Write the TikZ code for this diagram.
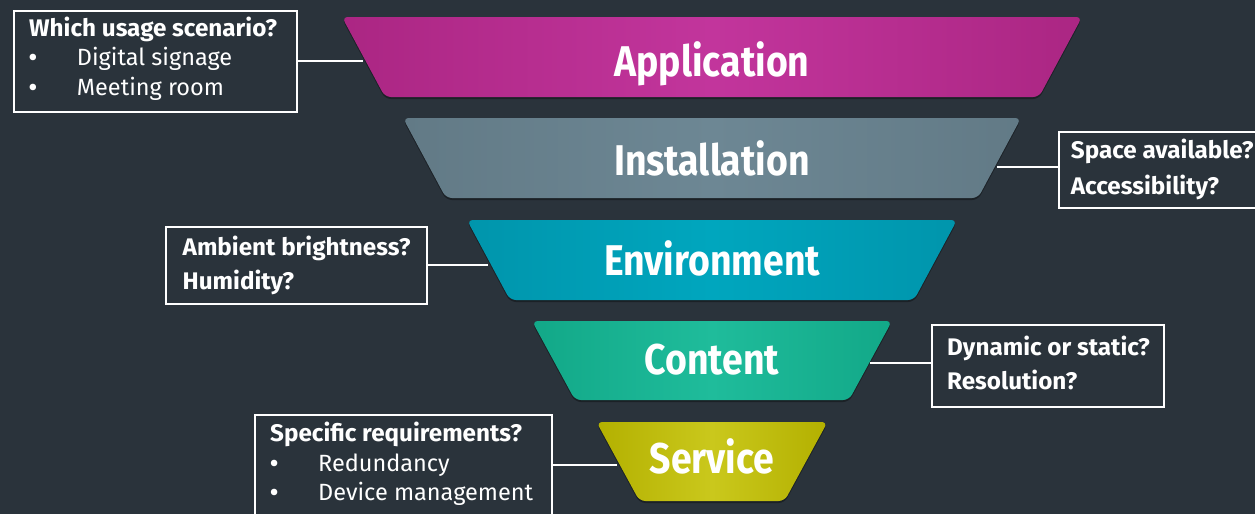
\documentclass[tikz,border=0pt]{standalone}
\usepackage{fontspec}
\setmainfont{Fira Sans}
\newfontfamily\titlefont{Fira Sans}[FakeStretch=0.87]
\newfontfamily\headfont{Fira Sans}[FakeStretch=1.01]
\definecolor{bg}{HTML}{2A333B}
\definecolor{appE}{HTML}{AB2683}\definecolor{appM}{HTML}{C2359C}
\definecolor{insE}{HTML}{627A86}\definecolor{insM}{HTML}{6D8794}
\definecolor{envE}{HTML}{0095AC}\definecolor{envM}{HTML}{00A6BE}
\definecolor{conE}{HTML}{12A888}\definecolor{conM}{HTML}{1FBC9B}
\definecolor{serE}{HTML}{B3B000}\definecolor{serM}{HTML}{CAC81C}
\newcommand\bulletitem{\makebox[48pt][l]{\bfseries •}}
\tikzset{
  qbox/.style={draw=white, line width=2pt, anchor=north west, inner sep=0pt},
  conn/.style={draw=white, line width=2pt},
  qtext/.style={text=white, inner sep=0pt, anchor=base west, font=\fontsize{23.5}{28}\selectfont},
  qhead/.style={qtext, font=\headfont\fontsize{24}{28}\selectfont\bfseries},
  title/.style={text=white, inner sep=0pt, anchor=base, font=\titlefont\fontsize{43}{50}\selectfont\bfseries},
}
% #1 top y, #2 bottom y, #3 top half width, #4 edge colour, #5 middle colour
\newcommand\funnelpart[5]{%
  \fill[black, opacity=0.35, rounded corners=6pt]
    ({712-#3},#1+2) -- ({712+#3},#1+2) -- ({712+#3-43},#2+2) -- ({712-#3+43},#2+2) -- cycle;
  \shade[rounded corners=6pt, left color=#4, right color=#4, middle color=#5]
    ({712-#3},#1) -- ({712+#3},#1) -- ({712+#3-43},#2) -- ({712-#3+43},#2) -- cycle;
}
\begin{document}
\begin{tikzpicture}[x=1pt, y=-1pt]
\useasboundingbox (0,0) rectangle (1255,514);
\clip (0,0) rectangle (1255,514);
\fill[bg] (0,0) rectangle (1255,514);

% funnel
\funnelpart{17}{97}{370}{appE}{appM}
\funnelpart{118}{198}{309}{insE}{insM}
\funnelpart{220}{300}{245}{envE}{envM}
\funnelpart{321}{400}{180}{conE}{conM}
\funnelpart{422}{501}{115.5}{serE}{serM}

\node[title] (app) at (712,76) {Application};
\node[title] (ins) at (712,175) {Installation};
\node[title] (env) at (712,275) {Environment};
\node[title] (con) at (712,374) {Content};
\node[title] (ser) at (712,473) {Service};

\coordinate (appL) at (363,61);
\coordinate (insR) at (997,167);
\coordinate (envL) at (488,265);
\coordinate (conR) at (870,363);
\coordinate (serL) at (617,465);

% question boxes
\node[qbox, minimum width=283pt, minimum height=101pt] (q1) at (13,10) {};
\node[qbox, minimum width=220pt, minimum height=76pt] (q2) at (1058,131) {};
\node[qbox, minimum width=261pt, minimum height=77pt] (q3) at (165,226) {};
\node[qbox, minimum width=232pt, minimum height=82pt] (q4) at (931,324) {};
\node[qbox, minimum width=297pt, minimum height=120pt] (q5) at (254,414) {};

\draw[conn] (appL -| q1.east) -- (appL);
\draw[conn] (insR -| q2.west) -- (insR);
\draw[conn] (envL -| q3.east) -- (envL);
\draw[conn] (conR -| q4.west) -- (conR);
\draw[conn] (serL -| q5.east) -- (serL);

% texts
\node[qhead] (t1) at (29,36) {Which usage scenario?};
\node[qtext] (t1a) at (28.7,65.7) {\bulletitem Digital signage};
\node[qtext] (t1b) at (28.7,95.7) {\bulletitem Meeting room};

\node[qhead] (t2a) at (1070.7,158) {Space available?};
\node[qhead] (t2b) at (1070.7,194) {Accessibility?};

\node[qhead] (t3a) at (182.5,255) {Ambient brightness?};
\node[qhead] (t3b) at (182.5,289) {Humidity?};

\node[qhead] (t4a) at (947,355) {Dynamic or static?};
\node[qhead] (t4b) at (947,389) {Resolution?};

\node[qhead] (t5) at (270,441) {Specific requirements?};
\node[qtext] (t5a) at (270,471) {\bulletitem Redundancy};
\node[qtext] (t5b) at (270,500) {\bulletitem Device management};
\end{tikzpicture}
\end{document}
